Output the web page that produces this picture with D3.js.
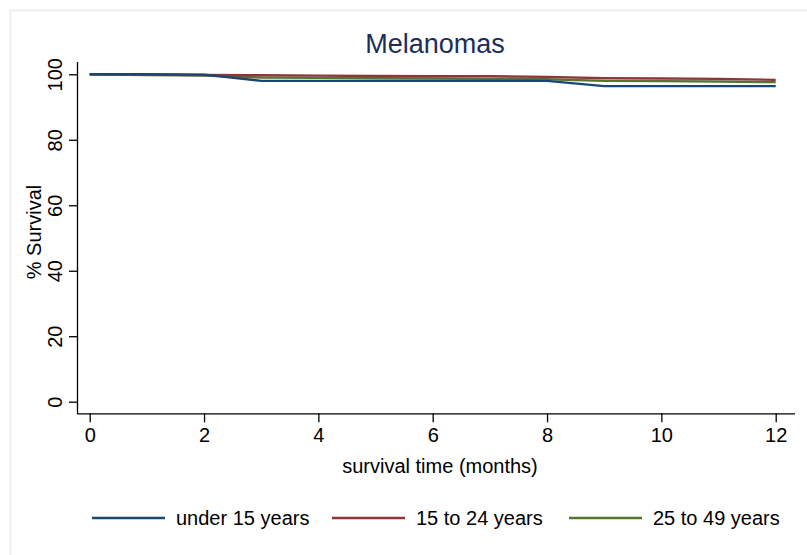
<!DOCTYPE html>
<html>
<head>
<meta charset="utf-8">
<script src="https://cdn.jsdelivr.net/npm/d3@7"></script>
<style>
  body { margin: 0; background: #fff; }
  text { font-family: "Liberation Sans", Arial, sans-serif; fill: #000; }
</style>
</head>
<body>
<div class="chart"></div>
<script>
// survival data (months 0..12)
var months = [0, 1, 2, 3, 4, 5, 6, 7, 8, 9, 10, 11, 12];
var under15 = [100, 100, 99.9, 98.0, 98.0, 98.0, 98.0, 98.0, 98.0, 96.4, 96.4, 96.4, 96.4];
var age15to24 = [100, 99.9, 99.8, 99.7, 99.6, 99.5, 99.4, 99.4, 99.2, 98.8, 98.7, 98.6, 98.3];
var age25to49 = [100, 99.8, 99.6, 99.0, 98.9, 98.8, 98.7, 98.6, 98.5, 98.0, 97.9, 97.8, 97.6];
var seriesNames = ["under 15 years", "15 to 24 years", "25 to 49 years"];
var colors = ["#1a476f", "#90353b", "#55752f"];
var xTicks = [0, 2, 4, 6, 8, 10, 12];
var yTicks = [0, 20, 40, 60, 80, 100];

var svgWidth = 807;
var svgHeight = 555;

var svg = d3.select(".chart")
  .append("svg")
  .attr("width", svgWidth)
  .attr("height", svgHeight);

// faint outer frame (left and top edges only show)
svg.append("path")
  .attr("d", "M10.5,555V10.5H807")
  .attr("fill", "none")
  .attr("stroke", "#e6ecf0")
  .attr("stroke-width", 1.5);

var xScale = d3.scaleLinear().domain([0, 12]).range([89.7, 775.7]);
var yScale = d3.scaleLinear().domain([0, 100]).range([401.7, 74.3]);

// title
svg.append("text")
  .attr("x", 435)
  .attr("y", 53)
  .attr("text-anchor", "middle")
  .style("font-size", "27px")
  .style("fill", "#1c2d5a")
  .text("Melanomas");

// axes
var bottomAxis = d3.axisBottom(xScale).tickValues(xTicks).tickSize(9).tickPadding(6);
var leftAxis = d3.axisLeft(yScale).tickValues(yTicks).tickSize(8).tickPadding(6);

var xAxisG = svg.append("g")
  .attr("transform", "translate(0, 413.3)")
  .call(bottomAxis);
xAxisG.select(".domain").attr("d", "M77,0.5H795");

var yAxisG = svg.append("g")
  .attr("transform", "translate(77, 0)")
  .call(leftAxis);
yAxisG.select(".domain").attr("d", "M0.5,62V414");

// rotated y tick labels, as in the picture
yAxisG.selectAll(".tick text")
  .attr("transform", "rotate(-90)")
  .attr("x", 0)
  .attr("y", -15)
  .attr("dy", 0)
  .attr("text-anchor", "middle");

svg.selectAll(".tick text").style("font-size", "20px").style("fill", "#000");
svg.selectAll(".domain, .tick line").attr("stroke", "#000").attr("stroke-width", 1.3);

// axis titles
svg.append("text")
  .attr("x", 440)
  .attr("y", 473)
  .attr("text-anchor", "middle")
  .style("font-size", "20px")
  .text("survival time (months)");

svg.append("text")
  .attr("transform", "translate(41, 232) rotate(-90)")
  .attr("text-anchor", "middle")
  .style("font-size", "20px")
  .text("% Survival");

// lines
var allSeries = [under15, age15to24, age25to49];
var line = d3.line()
  .x(function(d, i) { return xScale(months[i]); })
  .y(function(d) { return yScale(d); });

// draw green first so red and blue sit on top as in the picture
[2, 1, 0].forEach(function(k) {
  svg.append("path")
    .datum(allSeries[k])
    .attr("d", line)
    .attr("fill", "none")
    .attr("stroke", colors[k])
    .attr("stroke-width", 2.4);
});

// legend
var legendX = [92, 332, 569];
seriesNames.forEach(function(name, k) {
  var g = svg.append("g").attr("transform", "translate(" + legendX[k] + ", 518)");
  g.append("line")
    .attr("x1", 0).attr("x2", 73)
    .attr("y1", 0).attr("y2", 0)
    .attr("stroke", colors[k])
    .attr("stroke-width", 2.4);
  g.append("text")
    .attr("x", 84)
    .attr("y", 7)
    .style("font-size", "20px")
    .text(name);
});
</script>
</body>
</html>
